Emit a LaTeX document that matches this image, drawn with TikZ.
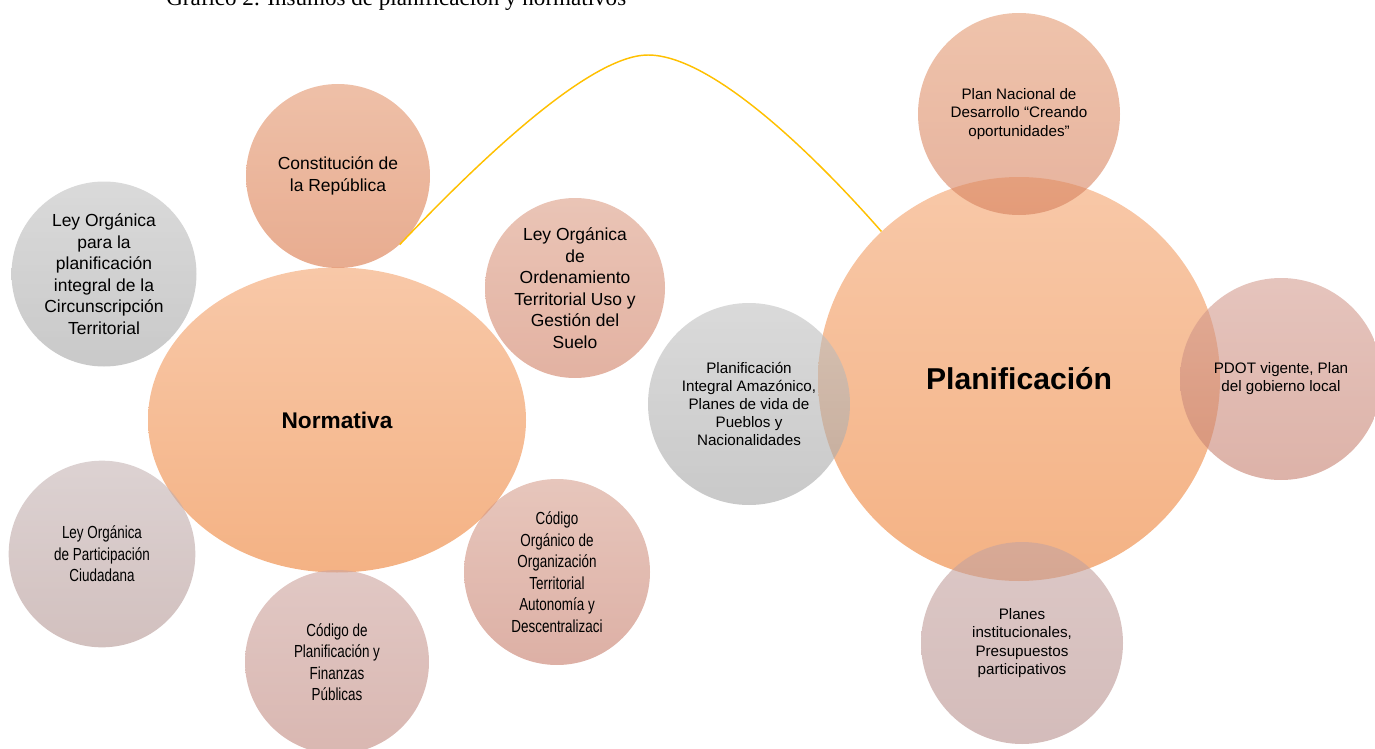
\documentclass[tikz,border=0pt]{standalone}
\usepackage{fontspec}
\setmainfont{Liberation Sans}
\newfontfamily\ttlfont{Liberation Serif}
\newfontfamily\condfont[FakeStretch=0.77]{Liberation Sans}
\usetikzlibrary{shapes.geometric}
\definecolor{bigtop}{RGB}{248,200,168}
\definecolor{bigbot}{RGB}{244,178,132}
\definecolor{constT}{RGB}{227,150,110}\definecolor{constB}{RGB}{217,117,70}
\definecolor{pndT}{RGB}{228,155,115}\definecolor{pndB}{RGB}{214,128,93}
\definecolor{pdotT}{RGB}{212,157,145}\definecolor{pdotB}{RGB}{198,127,110}
\definecolor{pippT}{RGB}{197,163,160}\definecolor{pippB}{RGB}{183,143,140}
\definecolor{grayT}{RGB}{193,193,193}\definecolor{grayB}{RGB}{165,165,165}
\definecolor{lootT}{RGB}{220,157,133}\definecolor{lootB}{RGB}{208,127,100}
\definecolor{lopcT}{RGB}{197,180,180}\definecolor{lopcB}{RGB}{180,150,147}
\definecolor{cpfpT}{RGB}{205,163,157}\definecolor{cpfpB}{RGB}{192,135,125}
\definecolor{cootT}{RGB}{215,160,143}\definecolor{cootB}{RGB}{198,123,105}
\definecolor{gold}{RGB}{255,192,0}
\tikzset{
  bubble/.style={circle, inner sep=0pt, align=center, fill opacity=0.6, text opacity=1,
    font=\fontsize{13.1}{16.1}\selectfont},
  smallbubble/.style={bubble, font=\fontsize{11.4}{13.6}\selectfont},
  condbubble/.style={bubble, font=\condfont\fontsize{13.1}{16.1}\selectfont},
  bigbubble/.style={ellipse, inner sep=0pt, align=center, top color=bigtop, bottom color=bigbot},
  link/.style={draw=gold, line width=1.1pt}
}
\begin{document}
\begin{tikzpicture}[x=0.75pt,y=-0.75pt]
\useasboundingbox (0,0) rectangle (1375,749);
% title (cut at top)
\node[anchor=base west, inner sep=0pt, font=\ttlfont\fontsize{17.3}{20}\selectfont] (title) at (166,6) {Gráfico 2. Insumos de planificación y normativos};
% big ellipses
\node[bigbubble, minimum width=283.5pt, minimum height=228.75pt, font=\bfseries\fontsize{17}{20}\selectfont] (norm) at (337,420) {Normativa};
\node[bigbubble, minimum width=301.5pt, minimum height=303pt, font=\bfseries\fontsize{22.6}{26}\selectfont] (plan) at (1019,379) {Planificación};
% normativa bubbles
\node[bubble, minimum size=138pt, top color=constT, bottom color=constB] (const) at (338,176) {Constitución de\\la República};
\node[bubble, minimum size=138.75pt, top color=grayT, bottom color=grayB] (lopl) at (104,274) {Ley Orgánica\\para la\\planificación\\integral de la\\Circunscripción\\Territorial};
\node[bubble, minimum size=135pt, top color=lootT, bottom color=lootB] (loot) at (575,288) {Ley Orgánica\\de\\Ordenamiento\\Territorial Uso y\\Gestión del\\Suelo};
\node[condbubble, minimum size=140pt, top color=lopcT, bottom color=lopcB] (lopc) at (102,554) {Ley Orgánica\\de Participación\\Ciudadana};
\node[condbubble, minimum size=138pt, top color=cpfpT, bottom color=cpfpB] (cpfp) at (337,662) {Código de\\Planificación y\\Finanzas\\Públicas};
\node[condbubble, minimum size=139.5pt, top color=cootT, bottom color=cootB] (coot) at (557,572) {Código\\Orgánico de\\Organización\\Territorial\\Autonomía y\\Descentralizaci};
% planificacion bubbles
\node[smallbubble, minimum size=151.5pt, top color=grayT, bottom color=grayB] (amaz) at (749,404) {Planificación\\Integral Amazónico,\\Planes de vida de\\Pueblos y\\Nacionalidades};
\node[smallbubble, minimum size=151.5pt, top color=pndT, bottom color=pndB] (pnd) at (1019,114) {Plan Nacional de\\Desarrollo “Creando\\oportunidades\symbol{34}};
\node[smallbubble, minimum size=151.5pt, top color=pdotT, bottom color=pdotB] (pdot) at (1281,379) {PDOT vigente, Plan\\del gobierno local};
\node[smallbubble, minimum size=151.5pt, top color=pippT, bottom color=pippB] (pipp) at (1022,643) {Planes\\institucionales,\\Presupuestos\\participativos};
% connector
\coordinate (peak) at (648,55);
\draw[link] (const.-48) .. controls (480,160) and (590,55) .. (peak)
                        .. controls (710,55) and (810,150) .. (plan.133);
\end{tikzpicture}
\end{document}
